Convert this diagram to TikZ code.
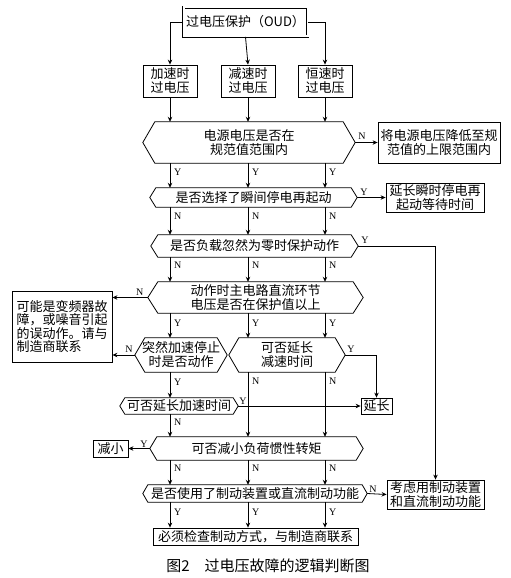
\documentclass[tikz,border=0pt]{standalone}
\usepackage{fontspec}
\setmainfont{Noto Sans CJK SC}
\newfontfamily\latf{Liberation Serif}
\usetikzlibrary{arrows.meta,calc}
\newcommand{\hexa}[7]{%
  \node[hexn,minimum width=#4pt,minimum height=#5pt] (#1) at (#2,#3) {#7};
  \draw[line] (#1.west) -- ([xshift=#6pt]#1.north west) -- ([xshift=-#6pt]#1.north east) -- (#1.east) -- ([xshift=-#6pt]#1.south east) -- ([xshift=#6pt]#1.south west) -- cycle;}
\begin{document}
\begin{tikzpicture}[x=1pt,y=-1pt,
  line/.style={draw=black,line width=0.8pt},
  arr/.style={line,-{Stealth[length=5pt,width=4.5pt]}},
  boxn/.style={draw=black,line width=0.8pt,inner sep=0pt,align=center,font=\fontsize{13}{14}\selectfont},
  hexn/.style={inner sep=0pt,align=center,font=\fontsize{13}{14}\selectfont},
  lab/.style={font=\latf\fontsize{10}{10}\selectfont,inner sep=0pt}]
\useasboundingbox (0,0) rectangle (511,578);
\coordinate (c1) at (170,0);
\coordinate (c2) at (248,0);
\coordinate (c3) at (325,0);
% top
\node[boxn,double,double distance=2pt,minimum width=124pt,minimum height=29pt] (top) at (245.5,22) {过电压保护（OUD）};
\node[boxn,minimum width=54pt,minimum height=32pt] (b1) at (170,81) {加速时\\过电压};
\node[boxn,minimum width=54pt,minimum height=32pt] (b2) at (248,81) {减速时\\过电压};
\node[boxn,minimum width=54pt,minimum height=32pt] (b3) at (325,81) {恒速时\\过电压};
\draw[arr] (top.west) -| (b1.north);
\draw[arr] (top.south) -- (b2.north);
\draw[arr] (top.east) -| (b3.north);
% hex1
\hexa{h1}{249}{142.5}{212}{41}{12}{电源电压是否在\\规范值范围内}
\node[boxn,minimum width=122pt,minimum height=41pt] (r1) at (439,142.5) {将电源电压降低至规\\范值的上限范围内};
\draw[arr] (b1.south) -- (h1.north -| b1);
\draw[arr] (b2.south) -- (h1.north -| b2);
\draw[arr] (b3.south) -- (h1.north -| b3);
\draw[arr] (h1.east) -- (r1.west);
\node[lab,anchor=south west] (n1) at ($(h1.east)+(3,-3)$) {N};
% hex2
\hexa{h2}{253.5}{197.5}{207}{19}{6}{是否选择了瞬间停电再起动}
\node[boxn,minimum width=98pt,minimum height=29pt] (r2) at (435,197.5) {延长瞬时停电再\\起动等待时间};
\foreach \c/\i in {c1/1,c2/2,c3/3}{
  \draw[arr] (h1.south -| \c) -- (h2.north -| \c);
  \node[lab,anchor=west] (y1\i) at ($(h1.south -| \c)+(4,9)$) {Y};
}
\draw[arr] (h2.east) -- (r2.west);
\node[lab,anchor=south west] (y2) at ($(h2.east)+(3,-2)$) {Y};
% hex3
\hexa{h3}{254.5}{246}{207}{22}{7}{是否负载忽然为零时保护动作}
\foreach \c/\i in {c1/1,c2/2,c3/3}{
  \draw[arr] (h2.south -| \c) -- (h3.north -| \c);
  \node[lab,anchor=west] (n2\i) at ($(h2.south -| \c)+(4,9)$) {N};
}
\node[boxn,minimum width=97pt,minimum height=29pt] (r4) at (435.5,494.5) {考虑用制动装置\\和直流制动功能};
\draw[arr] (h3.east) -| (r4.north);
\node[lab,anchor=south west] (y3) at ($(h3.east)+(3,-2)$) {Y};
% hex4
\hexa{h4}{255.5}{297.5}{215}{31}{10}{动作时主电路直流环节\\电压是否在保护值以上}
\foreach \c/\i in {c1/1,c2/2,c3/3}{
  \draw[arr] (h3.south -| \c) -- (h4.north -| \c);
  \node[lab,anchor=west] (n3\i) at ($(h3.south -| \c)+(4,8)$) {N};
}
\node[draw=black,line width=0.8pt,inner sep=0pt,align=left,font=\fontsize{13}{13.5}\selectfont,minimum width=100pt,minimum height=71pt] (l1) at (62,326.5) {可能是变频器故\\障，或噪音引起\\的误动作。请与\\制造商联系};
\draw[arr] (h4.west) -- (h4.west -| l1.east);
\node[lab,anchor=south] (n4) at ($(h4.west)+(-8,-2)$) {N};
% hex5, hex6
\hexa{h5}{181}{355}{92}{34}{10}{突然加速停止\\时是否动作}
\hexa{h6}{287}{355}{116}{34}{10}{可否延长\\减速时间}
\draw[arr] (h4.south -| c1) -- (h5.north -| c1);
\draw[arr] (h4.south -| c2) -- (h6.north -| c2);
\draw[arr] (h4.south -| c3) -- (h6.north -| c3);
\foreach \c/\i in {c1/1,c2/2,c3/3}{
  \node[lab,anchor=west] (y4\i) at ($(h4.south -| \c)+(4,10)$) {Y};
}
\draw[arr] (h5.west) -- (h5.west -| l1.east);
\node[lab,anchor=south east] (n5) at ($(h5.west)+(-2,-2)$) {N};
\node[boxn,minimum width=31pt,minimum height=16pt] (ext) at (376.5,406) {延长};
\draw[arr] (h6.east) -| (ext.north);
\node[lab,anchor=south west] (y6) at ($(h6.east)+(2,-2)$) {Y};
% hex7
\hexa{h7}{179}{406}{118}{16}{5}{可否延长加速时间}
\draw[arr] (h5.south -| c1) -- (h7.north -| c1);
\node[lab,anchor=west] (y5) at ($(h5.south -| c1)+(4,10)$) {Y};
\draw[arr] (h7.east) -- (ext.west);
\node[lab,anchor=south west] (y7) at ($(h7.east)+(1,-1)$) {Y};
% hex8
\hexa{h8}{256.5}{448.5}{213}{23}{7}{可否减小负荷惯性转矩}
\draw[arr] (h7.south -| c1) -- (h8.north -| c1);
\node[lab,anchor=west] (n7) at ($(h7.south -| c1)+(4,8)$) {N};
\draw[arr] (h6.south -| c2) -- (h8.north -| c2);
\draw[arr] (h6.south -| c3) -- (h8.north -| c3);
\node[lab,anchor=west] (n62) at ($(h6.south -| c2)+(4,9)$) {N};
\node[lab,anchor=west] (n63) at ($(h6.south -| c3)+(4,9)$) {N};
\node[boxn,minimum width=35pt,minimum height=17pt] (jx) at (110.5,448.5) {减小};
\draw[arr] (h8.west) -- (jx.east);
\node[lab,anchor=south east] (y8) at ($(h8.west)+(-2,-1)$) {Y};
% hex9
\hexa{h9}{255}{493.5}{224}{17}{5}{是否使用了制动装置或直流制动功能}
\foreach \c/\i in {c1/1,c2/2,c3/3}{
  \draw[arr] (h8.south -| \c) -- (h9.north -| \c);
  \node[lab,anchor=west] (n8\i) at ($(h8.south -| \c)+(4,8)$) {N};
}
\draw[arr] (h9.east) -- (r4.west);
\node[lab,anchor=south west] (n9) at ($(h9.east)+(2,-1)$) {N};
\node[boxn,minimum width=205pt,minimum height=17pt] (bot) at (255.5,536.5) {必须检查制动方式，与制造商联系};
\foreach \c/\i in {c1/1,c2/2,c3/3}{
  \draw[arr] (h9.south -| \c) -- (bot.north -| \c);
  \node[lab,anchor=west] (y9\i) at ($(h9.south -| \c)+(4,10)$) {Y};
}
\node[font=\fontsize{15}{15}\selectfont,inner sep=0pt] (cap) at (268,566) {图2\quad 过电压故障的逻辑判断图};
\end{tikzpicture}
\end{document}
